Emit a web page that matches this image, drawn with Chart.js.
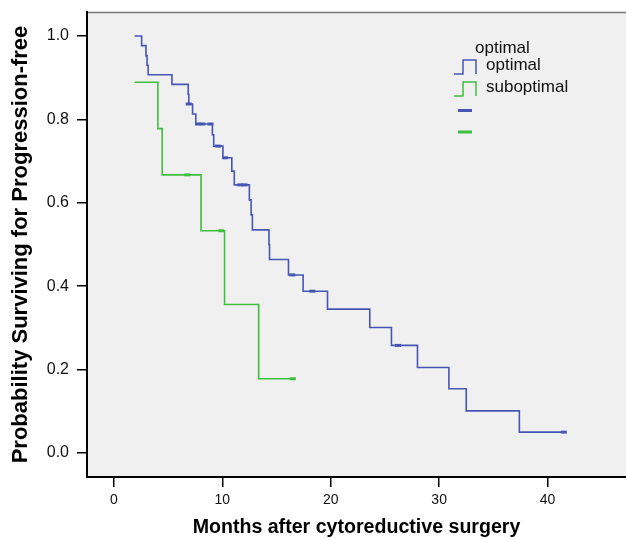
<!DOCTYPE html>
<html>
<head>
<meta charset="utf-8">
<script src="https://cdn.jsdelivr.net/npm/chart.js@4"></script>
<style>
  html, body { margin: 0; padding: 0; background: #fff; overflow: hidden; }
  canvas { display: block; }
</style>
</head>
<body>
<canvas id="km" width="626" height="539"></canvas>
<script>
// --- Daten ---
const xTicks = [0, 10, 20, 30, 40];
const yTicks = [0.0, 0.2, 0.4, 0.6, 0.8, 1.0];

// optimal: Zeitpunkte (Monate) und Überlebenswahrscheinlichkeit ab diesem Zeitpunkt
const optTime = [1.9, 2.55, 2.95, 3.05, 3.15, 5.35, 6.85, 6.9, 7.25, 7.55, 9.08, 9.2, 10.05, 10.87, 11.1,
                 12.49, 12.65, 12.77, 14.3, 14.35, 16.1, 17.45, 19.7, 23.6, 25.6, 28.0, 30.9, 32.5, 37.4, 41.5];
const optSurv = [1.0, 0.977, 0.953, 0.930, 0.907, 0.884, 0.860, 0.837, 0.813, 0.789, 0.763, 0.736, 0.708, 0.676, 0.643,
                 0.607, 0.571, 0.535, 0.500, 0.464, 0.427, 0.388, 0.345, 0.301, 0.258, 0.205, 0.154, 0.101, 0.050, 0.050];
const optCensTime = [6.9, 7.75, 8.15, 8.9, 9.6, 10.25, 11.65, 12.05, 16.45, 18.3, 26.2, 41.5];
const optCensSurv = [0.837, 0.789, 0.789, 0.789, 0.736, 0.708, 0.643, 0.643, 0.427, 0.388, 0.258, 0.050];

// suboptimal
const subTime = [1.9, 4.05, 4.45, 8.03, 10.2, 13.35, 16.5];
const subSurv = [0.889, 0.778, 0.667, 0.533, 0.356, 0.178, 0.178];
const subCensTime = [6.77, 9.9, 16.5];
const subCensSurv = [0.667, 0.533, 0.178];

const BLUE = '#4556b4';
const GREEN = '#3fbf3f';
const FONT = '"Liberation Sans", Arial, Helvetica, sans-serif';

const toPoints = (xs, ys) => xs.map((x, i) => ({ x: x, y: ys[i] }));

// --- Hintergrund + oberer Rahmen ---
const plotBg = {
  id: 'plotBg',
  beforeDraw(chart) {
    const { ctx, chartArea: a } = chart;
    ctx.save();
    ctx.fillStyle = '#f0f0f0';
    ctx.fillRect(a.left, a.top, a.right - a.left, a.bottom - a.top);
    ctx.strokeStyle = '#777';
    ctx.lineWidth = 1.5;
    ctx.beginPath();
    ctx.moveTo(a.left, a.top + 0.5);
    ctx.lineTo(a.right, a.top + 0.5);
    ctx.stroke();
    ctx.restore();
  }
};

// --- Legende im SPSS-Stil ---
const spssLegend = {
  id: 'spssLegend',
  afterDraw(chart) {
    const ctx = chart.ctx;
    ctx.save();
    ctx.font = '17px ' + FONT;
    ctx.fillStyle = '#111';
    ctx.textBaseline = 'alphabetic';
    ctx.fillText('optimal', 475, 53);
    ctx.fillText('optimal', 486, 70);
    ctx.fillText('suboptimal', 486, 92);
    const stepIcon = (color, yb) => {
      ctx.strokeStyle = color;
      ctx.lineWidth = 1.5;
      ctx.beginPath();
      ctx.moveTo(454, yb);
      ctx.lineTo(463, yb);
      ctx.lineTo(463, yb - 14);
      ctx.lineTo(476, yb - 14);
      ctx.lineTo(476, yb);
      ctx.stroke();
    };
    stepIcon(BLUE, 74);
    stepIcon(GREEN, 96);
    ctx.fillStyle = BLUE;
    ctx.fillRect(458, 109, 14, 3);
    ctx.fillStyle = GREEN;
    ctx.fillRect(458, 130.5, 14, 3);
    ctx.restore();
  }
};

const ctx = document.getElementById('km').getContext('2d');
new Chart(ctx, {
  type: 'line',
  data: {
    datasets: [
      { label: 'optimal', data: toPoints(optTime, optSurv), borderColor: BLUE, borderWidth: 1.6,
        stepped: 'before', pointRadius: 0, fill: false },
      { label: 'suboptimal', data: toPoints(subTime, subSurv), borderColor: GREEN, borderWidth: 1.6,
        stepped: 'before', pointRadius: 0, fill: false },
      { label: 'optimal censored', type: 'scatter', data: toPoints(optCensTime, optCensSurv), showLine: false,
        pointStyle: 'line', pointRadius: 3, borderColor: BLUE, borderWidth: 3 },
      { label: 'suboptimal censored', type: 'scatter', data: toPoints(subCensTime, subCensSurv), showLine: false,
        pointStyle: 'line', pointRadius: 3, borderColor: GREEN, borderWidth: 3 }
    ]
  },
  options: {
    responsive: false,
    animation: false,
    layout: { autoPadding: false, padding: { top: 12, right: 0, left: 0, bottom: 0 } },
    plugins: { legend: { display: false }, tooltip: { enabled: false } },
    scales: {
      x: {
        type: 'linear', min: -2.49, max: 47.24,
        afterBuildTicks: (axis) => { axis.ticks = xTicks.map(v => ({ value: v })); },
        afterFit: (axis) => { axis.height = 62; axis.paddingLeft = 0; axis.paddingRight = 0; },
        ticks: { color: '#111', font: { family: FONT, size: 14 }, padding: 5, maxRotation: 0 },
        grid: { drawOnChartArea: false, drawTicks: true, tickLength: 10, color: '#000', lineWidth: 1.5 },
        border: { display: true, color: '#000', width: 2 },
        title: { display: true, text: 'Months after cytoreductive surgery', color: '#000',
                 font: { family: FONT, size: 19.6, weight: 'bold' }, padding: { top: 0, bottom: 0 } }
      },
      y: {
        type: 'linear', min: -0.0576, max: 1.0576,
        afterBuildTicks: (axis) => { axis.ticks = yTicks.map(v => ({ value: v })); },
        afterFit: (axis) => { axis.width = 87; axis.paddingTop = 0; axis.paddingBottom = 0; },
        ticks: { color: '#111', font: { family: FONT, size: 16 }, padding: 8,
                 callback: (v) => Number(v).toFixed(1) },
        grid: { drawOnChartArea: false, drawTicks: true, tickLength: 10, color: '#000', lineWidth: 1.5 },
        border: { display: true, color: '#000', width: 2 },
        title: { display: true, text: 'Probability Surviving for Progression-free', color: '#000',
                 font: { family: FONT, size: 22, weight: 'bold' }, padding: { top: 8, bottom: 0 } }
      }
    }
  },
  plugins: [plotBg, spssLegend]
});
</script>
</body>
</html>
